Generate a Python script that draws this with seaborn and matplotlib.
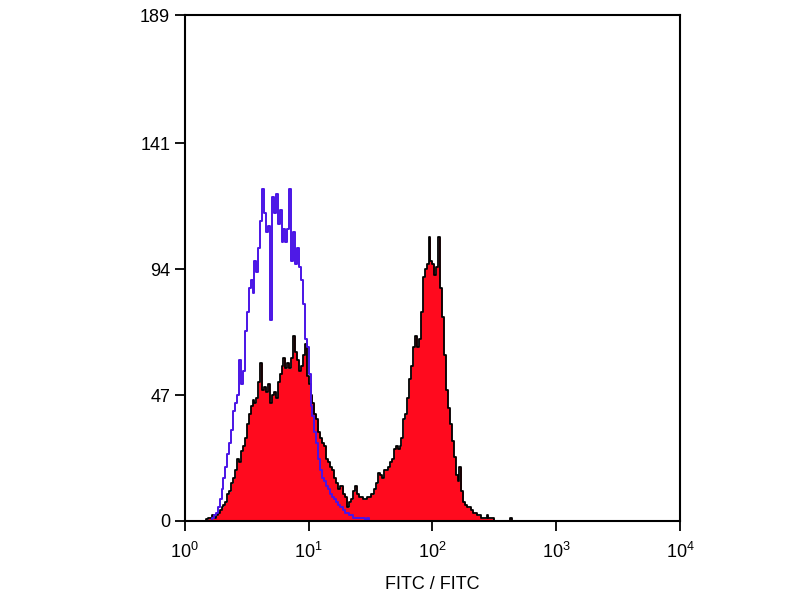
import numpy as np
import pandas as pd
import matplotlib
matplotlib.use("Agg")
import matplotlib.pyplot as plt
import seaborn as sns

# 256 log channels over 4 decades (instrument scale)
n_channels = 256
channel_edges = 10 ** (np.arange(n_channels + 1) / 64.0)
bin_edges = channel_edges.tolist()

# stained sample (red, filled) - counts per channel starting at channel 10
red_start = 10
red_counts = [0, 0.5, 1, 1, 2, 1, 2, 3, 4, 5,
              6, 7, 10, 11, 14, 16, 19, 23, 22, 26,
              28, 31, 36, 40, 43, 45, 44, 46, 52, 59,
              49, 50, 48, 51, 44, 47, 48, 46, 52, 55,
              58, 61, 57, 59, 57, 61, 69, 63, 60, 56,
              58, 62, 66, 54, 51, 47, 44, 40, 38, 33,
              31, 29, 28, 23, 22, 20, 19, 16, 14, 12,
              13, 13, 10, 9, 5, 7, 8, 11, 13, 10,
              9, 9, 8, 8, 9, 9, 10, 10, 12, 14,
              18, 17, 16, 19, 19, 20, 22, 23, 27, 28,
              27, 28, 31, 38, 40, 46, 53, 58, 65, 69,
              65, 68, 78, 91, 94, 96, 106, 97, 96, 92,
              95, 106, 87, 76, 62, 49, 42, 36, 30, 24,
              17, 15, 20, 11, 7, 6, 5, 5, 4, 3,
              3, 2, 2, 1, 1, 1, 2, 1, 1, 1,
              0, 0, 0, 0, 0, 0, 0, 0, 1, 0]

# isotype control (blue outline) - counts per channel starting at channel 13
blue_start = 13
blue_counts = [0, 1, 2, 3, 5, 8, 12, 16, 20, 25,
               29, 34, 41, 44, 47, 60, 51, 56, 71, 78,
               87, 90, 85, 97, 93, 102, 112, 124, 115, 108,
               110, 75, 121, 115, 122, 111, 116, 104, 109, 104,
               109, 124, 97, 108, 96, 102, 95, 90, 81, 68,
               65, 55, 43, 39, 33, 29, 23, 19, 16, 15,
               13, 12, 10, 9, 8, 7, 6, 5, 5, 4,
               3, 3, 2, 2, 1, 1, 1, 1, 1, 1,
               0, 1, 0, 0]

def channel_frame(start, counts):
    idx = np.arange(start, start + len(counts))
    centers = np.sqrt(channel_edges[idx] * channel_edges[idx + 1])
    return pd.DataFrame({"fitc": centers, "count": counts})

red_df = channel_frame(red_start, red_counts)
blue_df = channel_frame(blue_start, blue_counts)

sns.set_style("ticks")
plt.rcParams["font.family"] = ["Liberation Sans", "DejaVu Sans"]

fig = plt.figure(figsize=(8, 6), dpi=100)
ax = fig.add_axes([0.231, 0.132, 0.619, 0.843])

sns.histplot(data=red_df, x="fitc", weights="count", bins=bin_edges,
             element="step", fill=True, color="#ff0a1e", alpha=1,
             linewidth=0, ax=ax)
sns.histplot(data=red_df, x="fitc", weights="count", bins=bin_edges,
             element="step", fill=False, color="black", linewidth=1.3, ax=ax)
sns.histplot(data=blue_df, x="fitc", weights="count", bins=bin_edges,
             element="step", fill=False, color="#4a14e6", linewidth=1.4, ax=ax)

ax.set_xscale("log")
ax.set_xlim(1, 1e4)
ax.set_ylim(0, 189)
ax.set_xticks([1, 10, 100, 1000, 10000])
ax.xaxis.set_minor_locator(matplotlib.ticker.NullLocator())
ax.set_yticks([0, 47, 94, 141, 189])
ax.set_xlabel("FITC / FITC", fontsize=13, labelpad=10, color="black")
ax.set_ylabel("")
for s in ax.spines.values():
    s.set_visible(True)
    s.set_linewidth(1.5)
    s.set_color("black")
ax.tick_params(axis="both", direction="out", length=7, width=1.3,
               labelsize=13, colors="black")
ax.tick_params(axis="x", pad=8)

fig.savefig("out.png", dpi=100)
